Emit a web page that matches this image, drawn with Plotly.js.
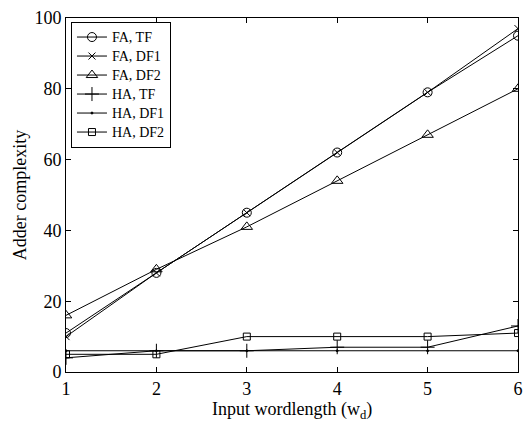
<!DOCTYPE html>
<html>
<head>
<meta charset="utf-8">
<script src="https://cdn.plot.ly/plotly-3.0.1.min.js"></script>
<style>html,body{margin:0;padding:0;background:#fff;}#chart{width:524px;height:421px;}</style>
</head>
<body>
<div id="chart"></div>
<script>
// Input wordlength values
const wordlength = [1, 2, 3, 4, 5, 6];

// Adder complexity for each architecture
const faTF  = [11, 28, 45, 62, 79, 95];
const faDF1 = [10, 28, 45, 62, 79, 97];
const faDF2 = [16, 29, 41, 54, 67, 80];
const haTF  = [4, 6, 6, 7, 7, 13];
const haDF1 = [6, 6, 6, 6, 6, 6];
const haDF2 = [5, 5, 10, 10, 10, 11];

const seriesNames = ['FA, TF', 'FA, DF1', 'FA, DF2', 'HA, TF', 'HA, DF1', 'HA, DF2'];
const seriesData = [faTF, faDF1, faDF2, haTF, haDF1, haDF2];
const symbols = ['circle-open', 'x-thin-open', 'triangle-up-open', 'cross-thin-open', 'circle', 'square-open'];
const sizes = [9, 7, 10, 10, 2, 7];

const yTicks = [0, 20, 40, 60, 80, 100];
const xTitle = 'Input wordlength (w<sub>d</sub>)';
const yTitle = 'Adder complexity';

const traces = seriesData.map((ys, i) => ({
  x: wordlength,
  y: ys,
  // legend entries use a slightly larger text size than the legend's base font
  name: '<span style="font-size:14px">' + seriesNames[i] + '</span>',
  type: 'scatter',
  mode: 'lines+markers',
  line: {color: '#000', width: 1},
  marker: {symbol: symbols[i], size: sizes[i], color: '#000', line: {color: '#000', width: 1}}
}));

const font = {family: '"Liberation Serif", "Times New Roman", serif', color: '#000'};

const layout = {
  width: 524,
  height: 421,
  margin: {l: 66, r: 6, t: 18, b: 49},
  paper_bgcolor: '#fff',
  plot_bgcolor: '#fff',
  showlegend: true,
  font: Object.assign({size: 15}, font),
  xaxis: {
    range: [1, 6],
    tickvals: wordlength,
    ticks: 'inside',
    ticklen: 5,
    tickcolor: '#000',
    showline: true,
    linecolor: '#000',
    linewidth: 1,
    mirror: 'ticks',
    showgrid: false,
    zeroline: false,
    tickfont: Object.assign({size: 18}, font)
  },
  yaxis: {
    range: [0, 100],
    tickvals: yTicks,
    ticks: 'inside',
    ticklen: 5,
    tickcolor: '#000',
    showline: true,
    linecolor: '#000',
    linewidth: 1,
    mirror: 'ticks',
    showgrid: false,
    zeroline: false,
    tickfont: Object.assign({size: 18}, font),
    title: {text: yTitle, font: Object.assign({size: 18}, font), standoff: 3}
  },
  // x-axis title placed just below the tick labels
  annotations: [{
    text: xTitle,
    xref: 'paper', yref: 'paper',
    x: 0.5, y: -0.108,
    xanchor: 'center', yanchor: 'middle',
    showarrow: false,
    font: Object.assign({size: 18}, font)
  }],
  legend: {
    x: 0.011,
    y: 0.99,
    xanchor: 'left',
    yanchor: 'top',
    bgcolor: '#fff',
    bordercolor: '#000',
    borderwidth: 1,
    itemwidth: 30,
    tracegroupgap: 0,
    font: Object.assign({size: 12}, font)
  }
};

Plotly.newPlot('chart', traces, layout, {displayModeBar: false, staticPlot: true});
</script>
</body>
</html>
